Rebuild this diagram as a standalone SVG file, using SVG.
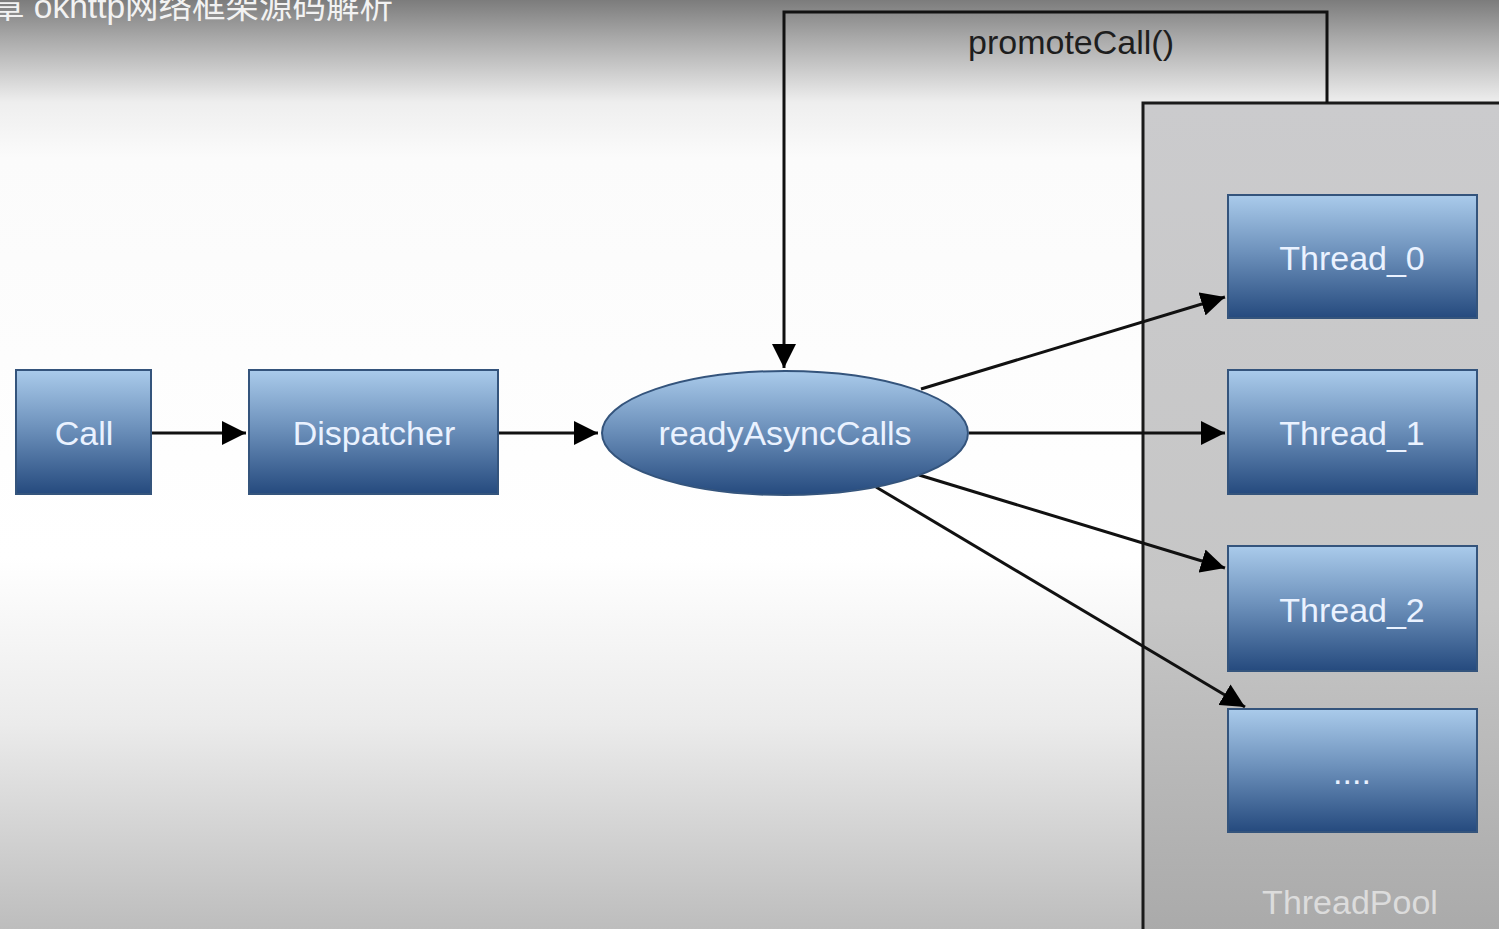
<svg xmlns="http://www.w3.org/2000/svg" width="1499" height="929" viewBox="0 0 1499 929">
  <defs>
    <linearGradient id="bg" x1="0" y1="0" x2="0" y2="1">
      <stop offset="0" stop-color="#7c7c7c"/>
      <stop offset="0.04" stop-color="#a8a8a8"/>
      <stop offset="0.11" stop-color="#eeeeee"/>
      <stop offset="0.17" stop-color="#fbfbfb"/>
      <stop offset="0.6" stop-color="#ffffff"/>
      <stop offset="0.78" stop-color="#ebebeb"/>
      <stop offset="1" stop-color="#bdbdbd"/>
    </linearGradient>
    <linearGradient id="pool" x1="0" y1="0" x2="0" y2="1">
      <stop offset="0" stop-color="#cbcbcd"/>
      <stop offset="0.6" stop-color="#c6c6c6"/>
      <stop offset="1" stop-color="#a9a9a9"/>
    </linearGradient>
    <linearGradient id="blue" x1="0" y1="0" x2="0" y2="1">
      <stop offset="0" stop-color="#aacbeb"/>
      <stop offset="0.45" stop-color="#6f93bd"/>
      <stop offset="1" stop-color="#254a7e"/>
    </linearGradient>
    <marker id="arrow" viewBox="0 0 10 10" refX="10" refY="5" markerWidth="24" markerHeight="24" markerUnits="userSpaceOnUse" orient="auto">
      <path d="M0,0 L10,5 L0,10 z" fill="#000"/>
    </marker>
  </defs>
  <style>
    .node { fill: url(#blue); stroke: #34547c; stroke-width: 2; }
    .lbl { font-family: "Liberation Sans", Arial, sans-serif; font-size: 34px; fill: #eaf2ff; text-anchor: middle; dominant-baseline: central; }
    .conn { stroke: #111; stroke-width: 3; fill: none; marker-end: url(#arrow); }
  </style>

  <rect x="0" y="0" width="1499" height="929" fill="url(#bg)"/>
  <text x="-9" y="18" font-family="'Liberation Sans', 'Noto Sans CJK SC', sans-serif" font-size="33.5" fill="#f2f2f2">章 okhttp网络框架源码解析</text>

  <g id="threadpool">
    <rect x="1143" y="103" width="370" height="840" fill="url(#pool)" stroke="#1a1a1a" stroke-width="3"/>
    <text x="1350" y="902" font-family="'Liberation Sans', Arial, sans-serif" font-size="34" fill="#dcdcdc" text-anchor="middle" dominant-baseline="central">ThreadPool</text>
  </g>

  <g id="connectors">
    <polyline class="conn" points="1327,103 1327,12 784,12 784,368"/>
    <line class="conn" x1="152" y1="433" x2="246" y2="433"/>
    <line class="conn" x1="499" y1="433" x2="598" y2="433"/>
    <line class="conn" x1="921" y1="389" x2="1225" y2="297"/>
    <line class="conn" x1="969" y1="433" x2="1225" y2="433"/>
    <line class="conn" x1="919" y1="475" x2="1225" y2="568"/>
    <line class="conn" x1="876" y1="487" x2="1245" y2="707"/>
    <text x="1071" y="42" font-family="'Liberation Sans', Arial, sans-serif" font-size="34" fill="#1e1e1e" text-anchor="middle" dominant-baseline="central">promoteCall()</text>
  </g>

  <g id="call">
    <rect class="node" x="16" y="370" width="135" height="124"/>
    <text class="lbl" x="84" y="433">Call</text>
  </g>
  <g id="dispatcher">
    <rect class="node" x="249" y="370" width="249" height="124"/>
    <text class="lbl" x="374" y="433">Dispatcher</text>
  </g>
  <g id="readyAsyncCalls">
    <ellipse class="node" cx="785" cy="433" rx="183" ry="62"/>
    <text class="lbl" x="785" y="433">readyAsyncCalls</text>
  </g>
  <g id="thread0">
    <rect class="node" x="1228" y="195" width="249" height="123"/>
    <text class="lbl" x="1352" y="258">Thread_0</text>
  </g>
  <g id="thread1">
    <rect class="node" x="1228" y="370" width="249" height="124"/>
    <text class="lbl" x="1352" y="433">Thread_1</text>
  </g>
  <g id="thread2">
    <rect class="node" x="1228" y="546" width="249" height="125"/>
    <text class="lbl" x="1352" y="610">Thread_2</text>
  </g>
  <g id="threadMore">
    <rect class="node" x="1228" y="709" width="249" height="123"/>
    <text class="lbl" x="1352" y="772">....</text>
  </g>
</svg>
